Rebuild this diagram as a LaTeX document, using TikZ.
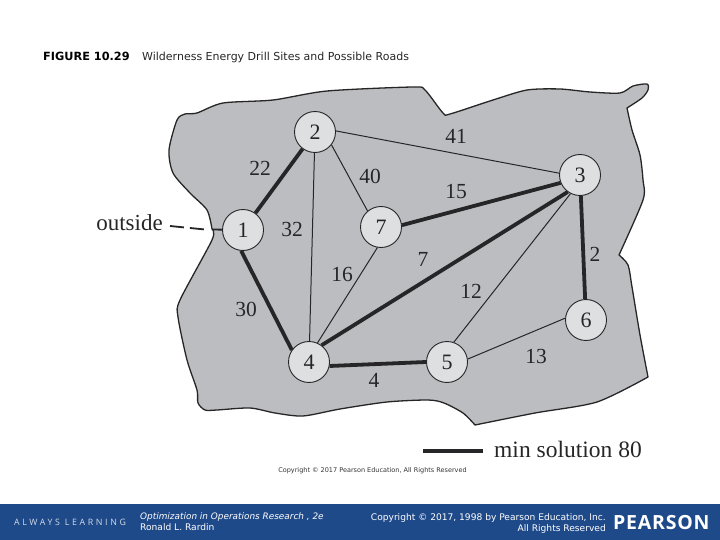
\documentclass[tikz,border=0pt]{standalone}
\usepackage{fontspec}
\setmainfont{Liberation Serif}
\newfontfamily\slidefont{DejaVu Sans}
\newfontfamily\wordmarkfont[LetterSpace=4]{Open Sans}
\newfontfamily\taglinefont[LetterSpace=30]{Open Sans}
\definecolor{landgray}{HTML}{BCBDC0}
\definecolor{sitegray}{HTML}{DEDFE1}
\definecolor{inkgray}{HTML}{262628}
\definecolor{barblue}{HTML}{1F4A8A}
\tikzset{
    site/.style={circle,draw=inkgray,fill=sitegray,line width=0.9pt,minimum size=41pt,inner sep=0pt,text=inkgray,font=\fontsize{22}{24}\selectfont},
    cost/.style={text=inkgray,inner sep=0pt,font=\fontsize{21.5}{24}\selectfont},
    road/.style={draw=inkgray,line width=1pt},
    chosen/.style={draw=inkgray,line width=3.8pt},
    footer/.style={text=white,inner sep=0pt,font=\slidefont\fontsize{9.1}{11}\selectfont}
}

\begin{document}
\begin{tikzpicture}[x=1pt,y=-1pt]
    \useasboundingbox (0,0) rectangle (720,540);

    % Draw the land outline
    \draw[fill=landgray,draw=black!85,line width=1.3pt,line join=round]
        plot[smooth,tension=0.45] coordinates {(212,229) (207,210) (190,193) (173,173) (169,150) (177,120) (185,114) (197,113) (223,103) (273,100) (327,91) (413,87) (425,90) (443,113) (450,114) (493,100) (527,90) (560,89) (590,92) (620,93) (633,86) (647,84) (648,90) (642,98) (627,108)}
        -- plot[smooth,tension=0.45] coordinates {(627,108) (632,130) (640,155) (643,180) (643,200) (619,255)}
        -- plot[smooth,tension=0.45] coordinates {(619,255) (628,265) (632,287) (640,335) (648,377)}
        -- plot[smooth,tension=0.45] coordinates {(648,377) (597,402) (535,413) (475,425)}
        -- plot[smooth,tension=0.45] coordinates {(475,425) (463,413) (444,403) (428,400) (387,402) (340,409) (303,416) (275,413) (250,408) (217,410) (205,410) (198,403) (197,390) (187,360) (178,317) (180,300) (212,240) (212,229)}
        -- cycle;

    % Place the drill sites
    \node[site] (N1) at (243,230) {1};
    \node[site] (N2) at (315,132) {2};
    \node[site] (N3) at (580,175) {3};
    \node[site] (N4) at (309,362) {4};
    \node[site] (N5) at (447,362) {5};
    \node[site] (N6) at (586,320) {6};
    \node[site] (N7) at (381,227) {7};

    % Draw the possible roads
    \draw[road] (N2.3) -- (N3.175);
    \draw[road] (N2.-38) -- (N7.130);
    \draw[road] (N2) -- (N4);
    \draw[road] (N7.260) -- (N4.66);
    \draw[road] (N3.243) -- (N5.71);
    \draw[road] (N5.8) -- (N6.175);

    % Draw the roads of the min solution
    \draw[chosen] (N1) -- (N2);
    \draw[chosen] (N1.265) -- (N4.145);
    \draw[chosen] (N7.5) -- (N3.202);
    \draw[chosen] (N4.53) -- (N3.234);
    \draw[chosen] (N3) -- (N6);
    \draw[chosen] (N4.-11) -- (N5.180);

    % Place the road costs
    \node[cost] (C22) at (260,168) {22};
    \node[cost] (C41) at (456,136) {41};
    \node[cost] (C40) at (370,176) {40};
    \node[cost] (C15) at (456,192) {15};
    \node[cost] (C32) at (292,229) {32};
    \node[cost] (C16) at (342,274) {16};
    \node[cost] (C7) at (423,259) {7};
    \node[cost] (C2) at (595,254) {2};
    \node[cost] (C12) at (471,291) {12};
    \node[cost] (C30) at (246,309) {30};
    \node[cost] (C13) at (536,356) {13};
    \node[cost] (C4) at (374,380) {4};

    % The way in from outside
    \node[cost,font=\fontsize{23}{24}\selectfont] (outside) at (129.5,223) {outside};
    \coordinate (dashA) at (170,226);
    \coordinate (gate) at (205,229.5);
    \coordinate (edge) at (212,229.5);
    \draw[draw=inkgray,line width=1.8pt,dash pattern=on 14pt off 6pt] (dashA) -- (gate);
    \draw[draw=inkgray,line width=1.8pt] (edge) -- (N1);

    % Legend
    \coordinate (keyA) at (423,451);
    \coordinate (keyB) at (483,451);
    \draw[draw=inkgray,line width=4.8pt] (keyA) -- (keyB);
    \node[cost,font=\fontsize{23.5}{24}\selectfont,anchor=west] (key) at (494,449) {min solution 80};

    % Titles
    \node[anchor=base west,inner sep=0pt,text=black,font=\slidefont\bfseries\fontsize{11.3}{13}\selectfont] (figno) at (43,61) {FIGURE 10.29};
    \node[anchor=base west,inner sep=0pt,text=black!85,font=\slidefont\fontsize{11}{13}\selectfont] (title) at (142,61) {Wilderness Energy Drill Sites and Possible Roads};
    \node[inner sep=0pt,text=black!80,font=\slidefont\fontsize{6.5}{8}\selectfont] (credit) at (372.5,471) {Copyright © 2017 Pearson Education, All Rights Reserved};

    % Footer bar
    \fill[barblue] (0,504) rectangle (720,540);
    \node[anchor=west,inner sep=0pt,text=white!80!barblue,font=\taglinefont\fontsize{8.8}{10}\selectfont] (always) at (14,522) {ALWAYS LEARNING};
    \node[footer,anchor=base west,font=\slidefont\itshape\fontsize{8.9}{11}\selectfont] (book) at (140,519) {Optimization in Operations Research , 2e};
    \node[footer,anchor=base west] (author) at (140,530) {Ronald L. Rardin};
    \node[footer,anchor=base east] (rights) at (606,520) {Copyright © 2017, 1998 by Pearson Education, Inc.};
    \node[footer,anchor=base east] (reserved) at (606,531) {All Rights Reserved};
    \node[anchor=base west,inner sep=0pt,text=white,font=\wordmarkfont\bfseries\fontsize{19.5}{22}\selectfont] (pearson) at (613,529) {PEARSON};
\end{tikzpicture}
\end{document}
